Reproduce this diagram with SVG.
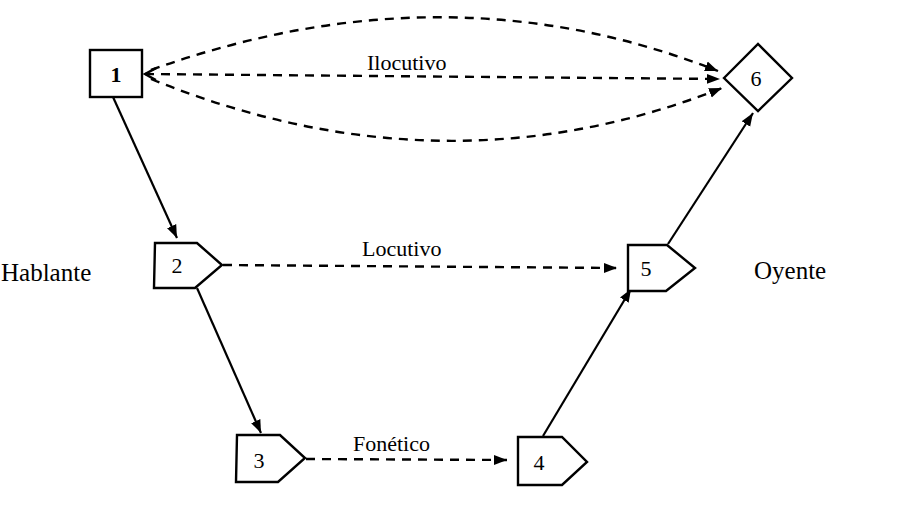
<svg xmlns="http://www.w3.org/2000/svg" width="904" height="517" viewBox="0 0 904 517">
<style>
.node{fill:#fff;stroke:#000;stroke-width:2.4;stroke-linejoin:miter}
.num{font-family:"Liberation Serif","Times New Roman",serif;font-size:22px;fill:#000;text-anchor:middle}
.lbl{font-family:"Liberation Serif","Times New Roman",serif;font-size:22px;fill:#000}
.side{font-family:"Liberation Serif","Times New Roman",serif;font-size:25px;fill:#000}
.solid{fill:none;stroke:#000;stroke-width:2.2}
.dash{fill:none;stroke:#000;stroke-width:2.4;stroke-dasharray:9 7}
</style>
<defs>
<marker id="ah" markerUnits="userSpaceOnUse" markerWidth="14" markerHeight="12" refX="13" refY="5" orient="auto" viewBox="0 0 14 10">
<path d="M0,0 L13,5 L0,10 Z" fill="#000"/>
</marker>
<marker id="chev" markerUnits="userSpaceOnUse" markerWidth="14" markerHeight="16" refX="12" refY="7" orient="auto-start-reverse" viewBox="0 0 14 14">
<path d="M1,1 L12,7 L1,13" fill="none" stroke="#000" stroke-width="2.4"/>
</marker>
</defs>
<rect width="904" height="517" fill="#fff"/>

<g id="connectors">
<path class="dash" d="M145,74 L720,79" marker-start="url(#chev)" marker-end="url(#ah)"/>
<path class="dash" d="M151,70 Q446,-36 718,71" marker-end="url(#ah)"/>
<path class="dash" d="M151,79 Q444,198 722,88" marker-end="url(#ah)"/>
<path class="solid" d="M113,97 L177,238" marker-end="url(#ah)"/>
<path class="solid" d="M197,288 L261,433" marker-end="url(#ah)"/>
<path class="solid" d="M543,436 L631,289" marker-end="url(#ah)"/>
<path class="solid" d="M668,244 L753,113" marker-end="url(#ah)"/>
<path class="dash" d="M223,265 L617,268" marker-end="url(#ah)"/>
<path class="dash" d="M306,459 L507,460" marker-end="url(#ah)"/>
<text class="lbl" x="367" y="70">Ilocutivo</text>
<text class="lbl" x="362" y="256">Locutivo</text>
<text class="lbl" x="353" y="451">Fonético</text>
</g>

<g id="n1">
<rect class="node" x="90" y="50" width="52" height="47"/>
<text class="num" x="116" y="82" font-weight="bold">1</text>
</g>
<g id="n6">
<polygon class="node" points="724,78 758,44 792,78 758,111"/>
<text class="num" x="756" y="86">6</text>
</g>
<g id="n2">
<polygon class="node" points="155,243 197,243 222,265 195,288 154,288"/>
<text class="num" x="177" y="273">2</text>
</g>
<g id="n3">
<polygon class="node" points="237,435 280,435 305,458 278,482 236,482"/>
<text class="num" x="259" y="468">3</text>
</g>
<g id="n4">
<polygon class="node" points="518,437 562,437 587,462 562,485 518,485"/>
<text class="num" x="539" y="470">4</text>
</g>
<g id="n5">
<polygon class="node" points="628,245 667,245 695,268 666,291 628,291"/>
<text class="num" x="646" y="276">5</text>
</g>
<text class="side" x="1" y="281">Hablante</text>
<text class="side" x="754" y="279">Oyente</text>
</svg>
